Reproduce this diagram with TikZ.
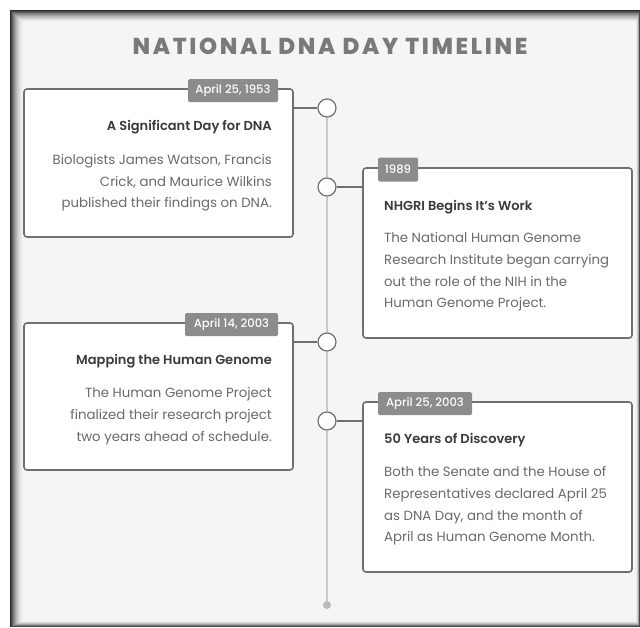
\documentclass[tikz,border=0pt]{standalone}
\usepackage{fontspec}
\setmainfont{Poppins}[BoldFont={Poppins SemiBold}]
\newfontfamily\titlefont{Poppins ExtraBold}[LetterSpace=11.5]
\newfontfamily\tagfont{Poppins Medium}
\definecolor{panel}{HTML}{F5F5F5}
\definecolor{boxline}{HTML}{707070}
\definecolor{tagfill}{HTML}{8C8C8C}
\definecolor{headtext}{HTML}{3A3A3A}
\definecolor{bodytext}{HTML}{6A6A6A}
\definecolor{titletext}{HTML}{7A7A7A}
\definecolor{railline}{HTML}{C8C8C8}
\tikzset{
  card/.style={draw=boxline, line width=1.6pt, fill=white, rounded corners=3pt, minimum width=269pt, inner sep=0pt},
  datetag/.style={fill=tagfill, text=white, rounded corners=1.5pt, inner sep=0pt, font=\tagfont\fontsize{11.6}{13}\selectfont},
  head/.style={text=headtext, inner sep=0pt, font=\fontsize{13}{15}\selectfont\bfseries},
  bodyr/.style={text=bodytext, inner sep=0pt, align=right, font=\fontsize{13.3}{21.7}\selectfont},
  bodyl/.style={text=bodytext, inner sep=0pt, align=left, font=\fontsize{13.3}{21.7}\selectfont},
  dot/.style={circle, draw=boxline, line width=1.2pt, fill=white, minimum size=18pt, inner sep=0pt},
  enddot/.style={circle, fill=railline!80!gray, minimum size=8pt, inner sep=0pt},
  link/.style={draw=boxline, line width=1.3pt},
  rail/.style={draw=railline, line width=1.2pt},
}
\begin{document}
\begin{tikzpicture}[x=1pt,y=-1pt]
\useasboundingbox (0,0) rectangle (640,627);
\fill[white] (0,0) rectangle (640,627);
% framed panel with inner shadow
\foreach \i in {0,...,14}{
  \pgfmathsetmacro\p{100-82*(1-\i/14)^2}
  \fill[panel!\p!black] (10+\i,10+0.95*\i) rectangle (640-0.3*\i,627-0.5*\i);
}
% title
\node[text=titletext, font=\titlefont\fontsize{23}{25}\selectfont, inner sep=0pt] (title) at (330,46) {NATIONAL DNA DAY TIMELINE};
% rail
\node[dot] (c1) at (327,108) {};
\node[dot] (c2) at (327,187) {};
\node[dot] (c3) at (327,342) {};
\node[dot] (c4) at (327,421) {};
\node[enddot] (end) at (327,605) {};
\draw[rail] (c1.south) -- (c2.north);
\draw[rail] (c2.south) -- (c3.north);
\draw[rail] (c3.south) -- (c4.north);
\draw[rail] (c4.south) -- (end.north);
% cards
\node[card, minimum height=148pt] (b1) at (158.5,163) {};
\node[card, minimum height=170pt] (b2) at (497.5,253) {};
\node[card, minimum height=147pt] (b3) at (158.5,396.5) {};
\node[card, minimum height=170pt] (b4) at (497.5,487) {};
% connectors
\draw[link] (b1.east |- c1) -- (c1.west);
\draw[link] (c2.east) -- (b2.west |- c2);
\draw[link] (b3.east |- c3) -- (c3.west);
\draw[link] (c4.east) -- (b4.west |- c4);
% date tags
\node[datetag, minimum width=90pt, minimum height=23pt] (t1) at (233,90.5) {April 25, 1953};
\node[datetag, minimum width=40pt, minimum height=24pt] (t2) at (398,169.5) {1989};
\node[datetag, minimum width=93pt, minimum height=23pt] (t3) at (231.5,324.5) {April 14, 2003};
\node[datetag, minimum width=94pt, minimum height=23pt] (t4) at (425,403.5) {April 25, 2003};
% headings
\node[head, anchor=east] (h1) at (272,127) {A Significant Day for DNA};
\node[head, anchor=west] (h2) at (384,207) {NHGRI Begins It's Work};
\node[head, anchor=east] (h3) at (272,361) {Mapping the Human Genome};
\node[head, anchor=west] (h4) at (384,440) {50 Years of Discovery};
% bodies
\node[bodyr, anchor=east] (p1) at (272,183) {Biologists James Watson, Francis\\Crick, and Maurice Wilkins\\published their findings on DNA.};
\node[bodyl, anchor=west] (p2) at (384,272) {The National Human Genome\\Research Institute began carrying\\out the role of the NIH in the\\Human Genome Project.};
\node[bodyr, anchor=east] (p3) at (272,416) {The Human Genome Project\\finalized their research project\\two years ahead of schedule.};
\node[bodyl, anchor=west] (p4) at (384,506) {Both the Senate and the House of\\Representatives declared April 25\\as DNA Day, and the month of\\April as Human Genome Month.};
\end{tikzpicture}
\end{document}
